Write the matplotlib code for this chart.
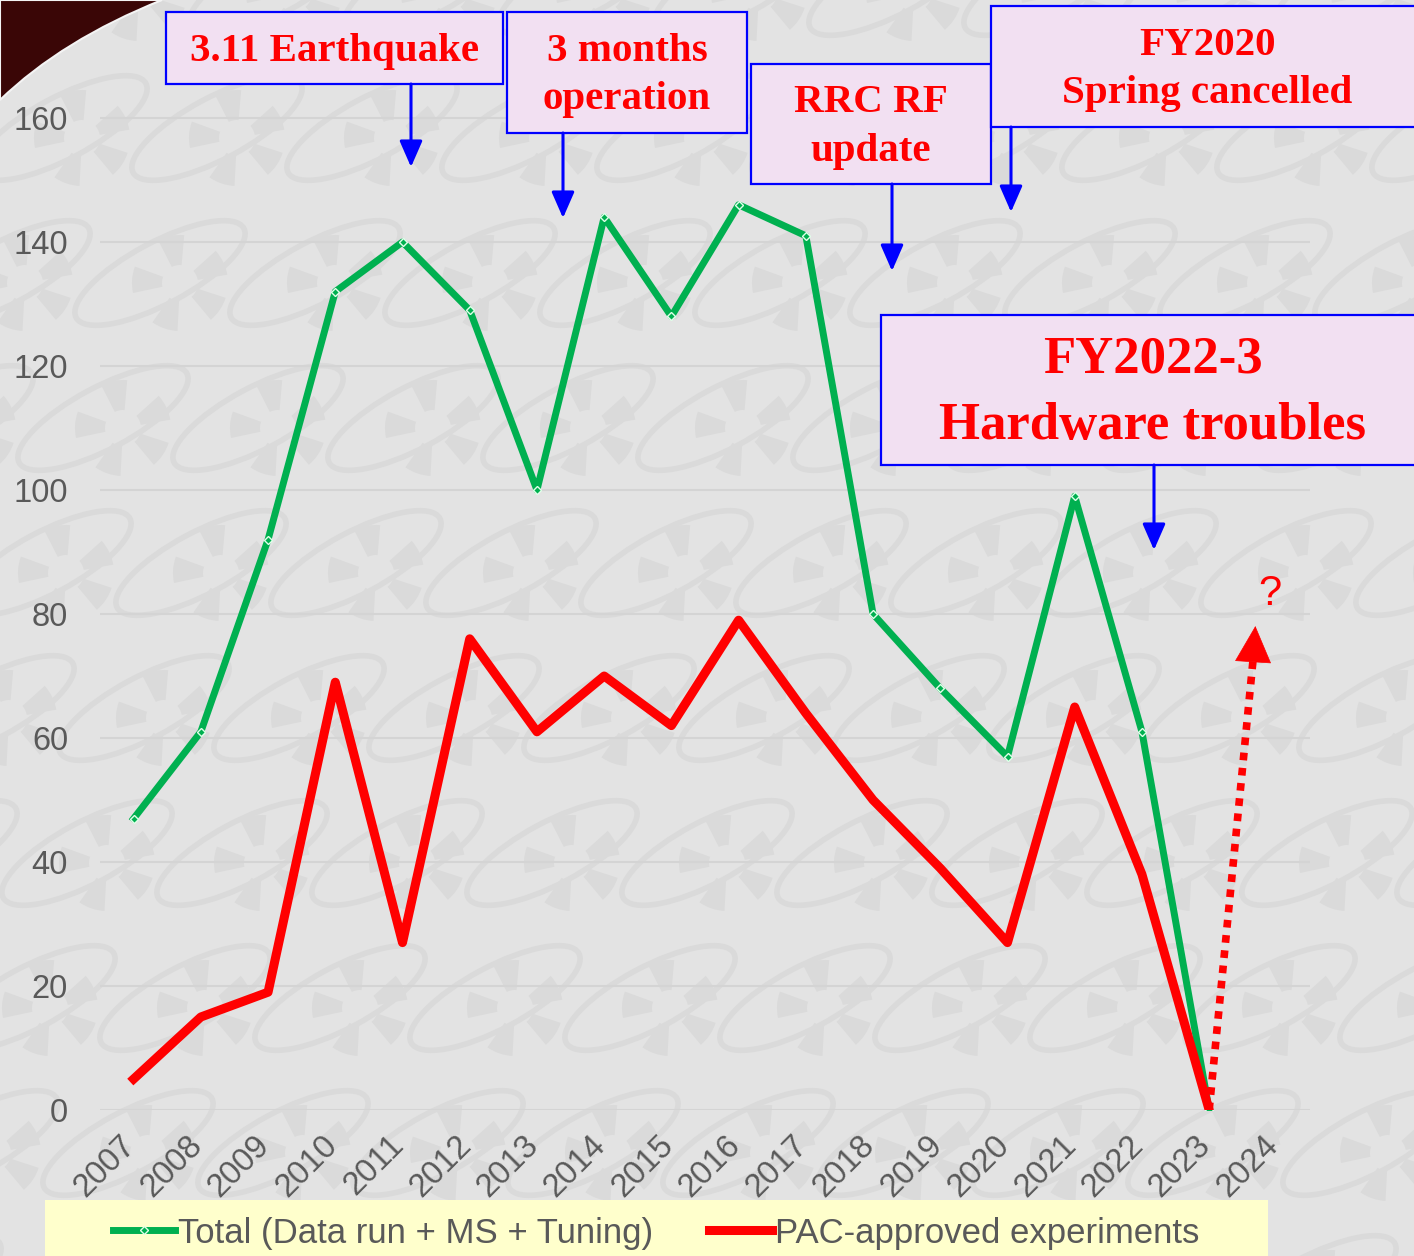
import matplotlib
matplotlib.use("Agg")
import matplotlib.pyplot as plt
from matplotlib.patches import Rectangle, FancyArrowPatch, PathPatch, Ellipse, Wedge
from matplotlib.path import Path
from matplotlib.transforms import ScaledTranslation, IdentityTransform

# ---- data -------------------------------------------------------------
years = list(range(2007, 2025))
year_labels = [str(y) for y in years]
total_years = list(range(2007, 2024))
total_hours = [47, 61, 92, 132, 140, 129, 100, 144, 128, 146, 141, 80, 68, 57, 99, 61, 0]
pac_hours = [5, 15, 19, 69, 27, 76, 61, 70, 62, 79, 64, 50, 39, 27, 65, 38, 0]
y_ticks = [0, 20, 40, 60, 80, 100, 120, 140, 160]

# outlook arrow for 2024 (from 2023 value up to the "?" guess)
outlook_start = (2023, 0)
outlook_tip = (2023.69, 78.5)

# event notes: text, box (x0, y0, x1, y1) in px, arrow (x, y_from, y_to) in px, size, spacing
events = [
    ("3.11 Earthquake", (166, 12, 503, 84), (411, 84, 167), 29.5, 1.42),
    ("3 months\noperation", (507, 12, 747, 133), (563, 133, 218), 29.5, 1.42),
    ("RRC RF\nupdate", (751, 64, 991, 184), (892, 184, 271), 29.5, 1.42),
    ("FY2020\nSpring cancelled", (991, 6, 1424, 127), (1011, 127, 212), 29.5, 1.42),
    ("FY2022-3\nHardware troubles", (881, 315, 1424, 465), (1154, 465, 550), 38, 1.5),
]

# ---- figure -----------------------------------------------------------
W, H = 1414, 1256
BG = "#e3e3e3"
MARK = "#dadada"
GREEN = "#00B050"
RED = "#FF0000"
TICK = "#595959"


def fx(px):
    return px / W


def fy(py):
    return 1 - py / H


fig = plt.figure(figsize=(W / 100, H / 100), dpi=100, facecolor=BG)

# faint logo watermark, tiled over the background
pix = IdentityTransform()
for k in range(-2, 11):
    cy = 283 + 145 * k
    for i in range(-2, 12):
        cx = 180 + 155 * i - 57 * k
        if cx < -120 or cx > W + 120:
            continue
        fig.add_artist(Ellipse((cx - 20, H - cy + 10), 190, 62, angle=28, fill=False,
                               edgecolor=MARK, lw=4, transform=pix, zorder=0))
        for a in (10, 85, 160, 235, 310):
            fig.add_artist(Wedge((cx, H - cy), 48, a, a + 32, width=30,
                                 facecolor=MARK, edgecolor="none", transform=pix, zorder=0))

# dark corner top-left
corner = Path([(fx(0), fy(0)), (fx(162), fy(0)), (fx(62), fy(40)), (fx(0), fy(100)), (fx(0), fy(0))],
              [Path.MOVETO, Path.LINETO, Path.CURVE3, Path.CURVE3, Path.CLOSEPOLY])
fig.add_artist(PathPatch(corner, transform=fig.transFigure, facecolor="#3a0606",
                         edgecolor="#f4f4f4", lw=1.5, zorder=1))

ax = fig.add_axes([fx(100), fy(1110), (1310 - 100) / W, (1110 - 56) / H])
ax.set_facecolor("none")
ax.set_xlim(2006.5, 2024.5)
ax.set_ylim(0, 170)

ax.plot(total_years, total_hours, color=GREEN, lw=5, marker="D", markersize=4.5,
        markerfacecolor=GREEN, markeredgecolor="#dfffe9", markeredgewidth=1,
        label="Total (Data run + MS + Tuning)", zorder=3, solid_joinstyle="round")
ax.plot(total_years, pac_hours, color=RED, lw=6.5, label="PAC-approved experiments",
        zorder=4, solid_joinstyle="round")

# dotted outlook arrow
ax.plot([outlook_start[0], outlook_tip[0] - 0.02], [outlook_start[1], outlook_tip[1] - 4],
        color=RED, lw=5.5, linestyle=(0, (1, 1)), dash_capstyle="butt", zorder=4)
ax.annotate("", xy=outlook_tip, xytext=(outlook_tip[0] - 0.03, outlook_tip[1] - 5),
            arrowprops=dict(arrowstyle="-|>,head_length=0.9,head_width=0.45",
                            mutation_scale=28, color=RED, lw=0.5), zorder=4)
ax.text(outlook_tip[0] + 0.22, outlook_tip[1] + 1.5, "?", color=RED, fontsize=30,
        family="Liberation Sans", ha="center", va="bottom")

ax.set_yticks(y_ticks)
ax.set_xticks(years)
ax.set_xticklabels(year_labels, rotation=45, ha="right", va="top", rotation_mode="anchor")
ax.tick_params(axis="both", length=0, colors=TICK)
ax.tick_params(axis="y", pad=23, labelsize=23.5)
ax.tick_params(axis="x", pad=14, labelsize=23.5)
shift = ScaledTranslation(-14 / 100, 0, fig.dpi_scale_trans)
for lbl in ax.get_xticklabels():
    lbl.set_family("Liberation Sans")
    lbl.set_transform(lbl.get_transform() + shift)
for lbl in ax.get_yticklabels():
    lbl.set_family("Liberation Sans")
ax.grid(axis="y", color="#d4d4d4", lw=1.5)
ax.set_axisbelow(True)
for s in ax.spines.values():
    s.set_visible(False)

# event boxes and arrows
for text, (x0, y0, x1, y1), (ar_x, a_from, a_to), size, spacing in events:
    fig.add_artist(Rectangle((fx(x0), fy(y1)), (x1 - x0) / W, (y1 - y0) / H,
                             transform=fig.transFigure, facecolor="#f2e0f2",
                             edgecolor="#0000ff", lw=1.6, zorder=6))
    fig.text(fx((x0 + x1) / 2), fy((y0 + y1) / 2 + 3), text, ha="center", va="center",
             fontsize=size, fontweight="bold", family="Liberation Serif",
             color=RED, linespacing=spacing, zorder=7)
    fig.add_artist(FancyArrowPatch((fx(ar_x), fy(a_from)), (fx(ar_x), fy(a_to)),
                                   transform=fig.transFigure,
                                   arrowstyle="-|>,head_length=0.8,head_width=0.35",
                                   mutation_scale=20, color="#0000ff", lw=2.2,
                                   shrinkA=0, shrinkB=0, zorder=6))

# legend strip
fig.add_artist(Rectangle((fx(45), fy(1256)), (1268 - 45) / W, 56 / H,
                         transform=fig.transFigure, facecolor="#ffffcc",
                         edgecolor="none", zorder=5))
leg = fig.legend(loc="center", bbox_to_anchor=(fx(656), fy(1233)), ncol=2,
                 frameon=False, prop={"family": "Liberation Sans", "size": 25},
                 handlelength=1.8, handletextpad=0.1, columnspacing=1.6,
                 borderaxespad=0, borderpad=0)
leg.set_zorder(7)
for t in leg.get_texts():
    t.set_color(TICK)

fig.savefig("out.png", dpi=100, facecolor=BG)
